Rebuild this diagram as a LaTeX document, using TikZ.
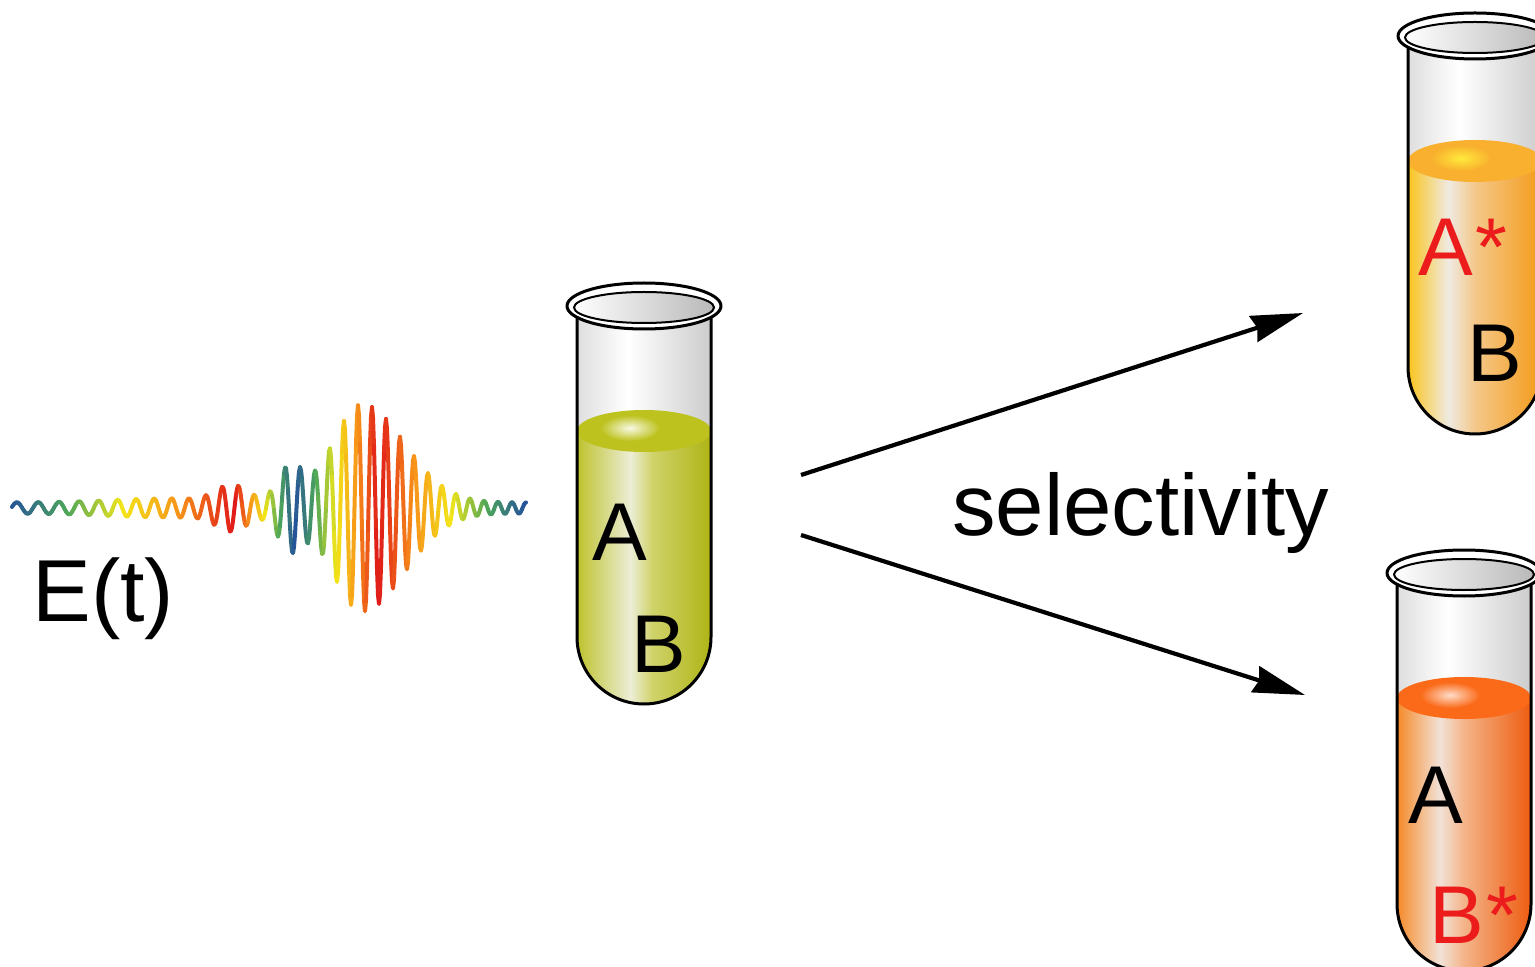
\documentclass[tikz,border=0pt]{standalone}
\usepackage{fontspec}
\setmainfont{Liberation Sans}
\usetikzlibrary{arrows.meta}

% glass and liquid colours
\definecolor{glassL}{HTML}{DEDEDE}
\definecolor{glassR}{HTML}{CCCCCC}
\definecolor{oliveL}{HTML}{BEC22C}
\definecolor{oliveH}{HTML}{ECEED6}
\definecolor{oliveM}{HTML}{D0D36A}
\definecolor{oliveR}{HTML}{AEB416}
\definecolor{oliveS}{HTML}{BDC21E}
\definecolor{oliveT}{HTML}{F8F9E4}
\definecolor{amberL}{HTML}{F9C41C}
\definecolor{amberH}{HTML}{EFEAE2}
\definecolor{amberM}{HTML}{F4C88A}
\definecolor{amberR}{HTML}{F49A18}
\definecolor{amberS}{HTML}{F8B02E}
\definecolor{amberT}{HTML}{FFEA3C}
\definecolor{orngL}{HTML}{F58A28}
\definecolor{orngH}{HTML}{F2E2D8}
\definecolor{orngM}{HTML}{F3B488}
\definecolor{orngR}{HTML}{EE5C10}
\definecolor{orngS}{HTML}{FA6A18}
\definecolor{orngT}{HTML}{FFDCC8}
\definecolor{excited}{HTML}{EC1C1C}

\pgfdeclarehorizontalshading{glassshade}{100bp}{color(0bp)=(glassL); color(25bp)=(glassL); color(44bp)=(white); color(75bp)=(glassR); color(100bp)=(glassR)}
\pgfdeclarehorizontalshading{oliveshade}{100bp}{color(0bp)=(oliveL); color(25bp)=(oliveL); color(45bp)=(oliveH); color(53bp)=(oliveM); color(75bp)=(oliveR); color(100bp)=(oliveR)}
\pgfdeclarehorizontalshading{ambershade}{100bp}{color(0bp)=(amberL); color(25bp)=(amberL); color(40bp)=(amberH); color(50bp)=(amberM); color(75bp)=(amberR); color(100bp)=(amberR)}
\pgfdeclarehorizontalshading{orngshade}{100bp}{color(0bp)=(orngL); color(25bp)=(orngL); color(41bp)=(orngH); color(50bp)=(orngM); color(75bp)=(orngR); color(100bp)=(orngR)}

% test tube: #1 centre x, #2 rim y, #3 liquid shading, #4 surface colour, #5 surface highlight
\newcommand{\testtube}[5]{%
  \begin{scope}[shift={(#1,#2)}]
    \path[shading=glassshade] (-67,0) -- (-67,331)
      .. controls (-67,368) and (-37,398) .. (0,398)
      .. controls (37,398) and (67,368) .. (67,331) -- (67,0) -- cycle;
    \path[shading=#3] (-67,125) -- (-67,331)
      .. controls (-67,368) and (-37,398) .. (0,398)
      .. controls (37,398) and (67,368) .. (67,331) -- (67,125) -- cycle;
    \fill[#4] (0,125) ellipse [x radius=67, y radius=21];
    \shade[inner color=#5, outer color=#4] (-14,122) ellipse [x radius=30, y radius=13];
    \draw[tubeline] (-67,0) -- (-67,331)
      .. controls (-67,368) and (-37,398) .. (0,398)
      .. controls (37,398) and (67,368) .. (67,331) -- (67,0);
    \filldraw[tubeline, fill=white] (0,0) ellipse [x radius=77, y radius=23];
    \shade[left color=white, right color=gray!55] (0,1.5) ellipse [x radius=70, y radius=15.5];
    \draw[line width=1pt] (0,1.5) ellipse [x radius=70, y radius=15.5];
  \end{scope}}

\begin{document}
\begin{tikzpicture}[x=0.5pt, y=-0.5pt,
  tubeline/.style={line width=1.5pt, line join=round},
  wavepen/.style={line width=2pt, line cap=round, line join=round},
  arr/.style={line width=2.1pt, -{Stealth[length=26pt, width=13.5pt, inset=2pt]}},
  lab/.style={inner sep=0pt, anchor=base west, font=\fontsize{41}{48}\selectfont},
  declare function={
    gsn(\u) = exp(max(-(\u)*(\u), -12));
    env(\x) = 98*gsn((\x-362)/((\x<362) ? 42 : 60))
            + 34*gsn((\x-290)/17) + 16*gsn((\x-232)/22)
            + 4*gsn((\x-170)/80) + 5.5;
    chirp(\x) = 0.1162*min(\x-358,0);
    carrier(\x) = cos(25.71*(\x-358) + chirp(\x)*chirp(\x));
    tc(\x) = min(1, max(0, (\x<235) ? (\x-12)/223 :
             ((\x<295) ? (295-\x)/60 : ((\x<378) ? (\x-295)/83 : (525-\x)/147))));
    cred(\t) = min(1, (\t<0.25) ? 0.15+0.6*\t : ((\t<0.5) ? 0.3+2.6*(\t-0.25) :
               ((\t<0.75) ? 0.95+0.08*(\t-0.5) : 0.97-0.36*(\t-0.75))));
    cgrn(\t) = max(0, (\t<0.25) ? 0.33+1.28*\t : ((\t<0.5) ? 0.65+1.0*(\t-0.25) :
               ((\t<0.75) ? 0.9-1.28*(\t-0.5) : 0.58-1.92*(\t-0.75))));
    cblu(\t) = max(0.1, (\t<0.25) ? 0.6-1.0*\t : 0.35-1.0*(\t-0.25));
  }]
  \clip (0,0) rectangle (1535,967);

  % chirped light pulse, coloured along its length
  \foreach \i in {0,...,256} {
    \pgfmathsetmacro\xa{12+2*\i}
    \pgfmathsetmacro\xb{\xa+2}
    \pgfmathsetmacro\wt{tc(\xa+1)}
    \pgfmathsetmacro\colR{cred(\wt)}
    \pgfmathsetmacro\colG{cgrn(\wt)}
    \pgfmathsetmacro\colB{cblu(\wt)}
    \definecolor{segc}{rgb}{\colR,\colG,\colB}
    \draw[wavepen, segc] plot[domain=\xa:\xb, samples=3]
      (\x, {508 - env(\x)*carrier(\x)});
  }
  \node[lab, font=\fontsize{44}{50}\selectfont] (field) at (32,621) {E(t)};

  % tubes
  \testtube{644}{306}{oliveshade}{oliveS}{oliveT}
  \testtube{1475}{36}{ambershade}{amberS}{amberT}
  \testtube{1464}{573}{orngshade}{orngS}{orngT}

  % contents
  \node[lab] (mixA) at (592,560) {A};
  \node[lab] (mixB) at (631,672) {B};
  \node[lab, text=excited] (upA) at (1418,276) {A\kern1pt*};
  \node[lab] (upB) at (1467,382) {B};
  \node[lab] (loA) at (1408,823) {A};
  \node[lab, text=excited] (loB) at (1429,943) {B\kern1pt*};

  % branching arrows
  \coordinate (upstart) at (801,475);
  \coordinate (upend) at (1303,313);
  \coordinate (lostart) at (801,535);
  \coordinate (loend) at (1305,695);
  \draw[arr] (upstart) -- (upend);
  \draw[arr] (lostart) -- (loend);
  \node[lab, font=\fontsize{43.5}{50}\selectfont] (sel) at (952,535) {selectivity};
\end{tikzpicture}
\end{document}
